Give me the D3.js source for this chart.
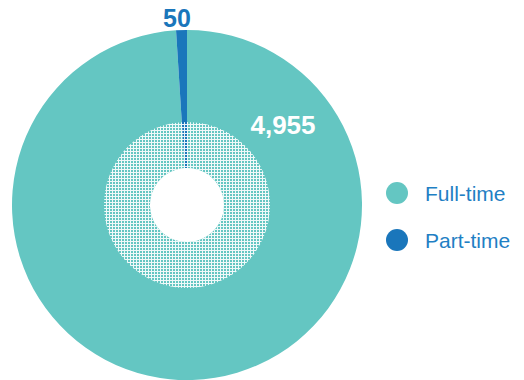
<!DOCTYPE html>
<html>
<head>
<meta charset="utf-8">
<script src="https://cdn.jsdelivr.net/npm/d3@7"></script>
<style>
body { margin: 0; background: #fff; }
svg { display: block; font-family: "Liberation Sans", Arial, sans-serif; }
</style>
</head>
<body>
<div id="chart"></div>
<script>
var categories = ["Full-time", "Part-time"];
var values = [4955, 50];
var valueLabels = ["4,955", "50"];
var colors = ["#64c6c2", "#1a76bb"];

var width = 524, height = 380;
var cx = 187, cy = 205;
var outerR = 175, innerR = 37, dotR = 83;

var svg = d3.select("#chart").append("svg")
    .attr("width", width)
    .attr("height", height);

// white grid texture for the inner ring
var pat = svg.append("defs").append("pattern")
    .attr("id", "grid")
    .attr("width", 3)
    .attr("height", 3)
    .attr("patternUnits", "userSpaceOnUse");
pat.append("rect").attr("x", 0).attr("y", 0).attr("width", 3).attr("height", 1).attr("fill", "#fff").attr("fill-opacity", 0.9);
pat.append("rect").attr("x", 0).attr("y", 1).attr("width", 1).attr("height", 2).attr("fill", "#fff").attr("fill-opacity", 0.9);

var pie = d3.pie().sort(null).value(function(d) { return d; });
var arcs = pie(values);

var arc = d3.arc().innerRadius(innerR).outerRadius(outerR);
var dotArc = d3.arc().innerRadius(innerR).outerRadius(dotR).startAngle(0).endAngle(2 * Math.PI);

var g = svg.append("g").attr("transform", "translate(" + cx + "," + cy + ")");

g.selectAll("path.slice")
    .data(arcs)
    .enter()
    .append("path")
    .attr("class", "slice")
    .attr("d", arc)
    .attr("fill", function(d, i) { return colors[i]; });

g.append("path")
    .attr("d", dotArc())
    .attr("fill", "url(#grid)");

// value labels
g.append("text")
    .attr("x", 96)
    .attr("y", -71)
    .attr("text-anchor", "middle")
    .attr("font-size", 26)
    .attr("font-weight", "bold")
    .attr("fill", "#fff")
    .text(valueLabels[0]);

g.append("text")
    .attr("x", -10)
    .attr("y", -178)
    .attr("text-anchor", "middle")
    .attr("font-size", 25)
    .attr("font-weight", "bold")
    .attr("fill", colors[1])
    .text(valueLabels[1]);

// legend
var legend = svg.selectAll("g.legend")
    .data(categories)
    .enter()
    .append("g")
    .attr("class", "legend")
    .attr("transform", function(d, i) { return "translate(397," + (193 + i * 47) + ")"; });

legend.append("circle")
    .attr("r", 11)
    .attr("fill", function(d, i) { return colors[i]; });

legend.append("text")
    .attr("x", 28)
    .attr("y", 8)
    .attr("font-size", 21)
    .attr("fill", "#1f80c4")
    .text(function(d) { return d; });
</script>
</body>
</html>
